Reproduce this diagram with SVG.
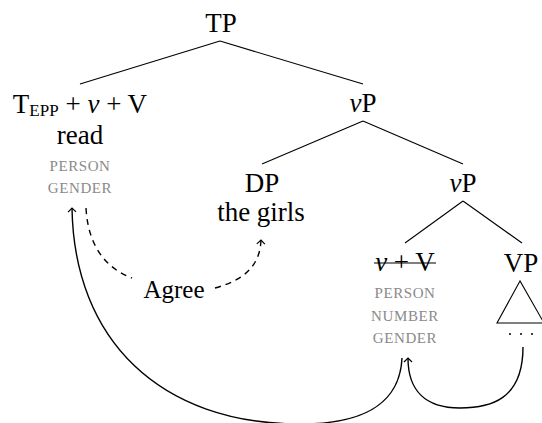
<svg xmlns="http://www.w3.org/2000/svg" width="542" height="423" viewBox="0 0 542 423">
<style>
text{font-family:'Liberation Serif','Times New Roman',Times,'DejaVu Serif',serif}
.t{font-size:27px;fill:#000;text-anchor:middle}
.f{font-size:15px;fill:#8a8a8a;text-anchor:middle;letter-spacing:0.6px}
.e{fill:none;stroke:#000;stroke-width:1.1}
.c{fill:none;stroke:#000;stroke-width:1.4}
.d{fill:none;stroke:#000;stroke-width:1.4;stroke-dasharray:6,5}
</style>
<defs>
<marker id="ah" viewBox="-6 -6 12 12" markerWidth="12" markerHeight="12" refX="0" refY="0" orient="auto" markerUnits="userSpaceOnUse">
<path d="M-4,-4 L0,0 L-4,4" fill="none" stroke="#000" stroke-width="1.2"/>
</marker>
</defs>
<g id="edges">
<line class="e" x1="220" y1="41" x2="80" y2="84"/>
<line class="e" x1="220" y1="41" x2="363" y2="84"/>
<line class="e" x1="363" y1="121" x2="262" y2="164"/>
<line class="e" x1="363" y1="121" x2="463" y2="164"/>
<line class="e" x1="463" y1="201" x2="405" y2="243"/>
<line class="e" x1="463" y1="201" x2="522" y2="243"/>
</g>
<g id="TP"><text class="t" x="221" y="32">TP</text></g>
<g id="T"><text class="t" x="80" y="113">T<tspan font-size="17" dy="3">EPP</tspan><tspan dy="-3"> + </tspan><tspan font-style="italic">v</tspan> + V</text>
<text class="t" x="80" y="144">read</text>
<text class="f" x="80" y="171">PERSON</text>
<text class="f" x="80" y="193">GENDER</text></g>
<g id="vP1"><text class="t" x="363" y="112"><tspan font-style="italic">v</tspan>P</text></g>
<g id="DP"><text class="t" x="262" y="192">DP</text><text class="t" x="261" y="221">the girls</text></g>
<g id="vP2"><text class="t" x="463" y="192"><tspan font-style="italic">v</tspan>P</text></g>
<g id="vV"><text class="t" x="405" y="271"><tspan font-style="italic">v</tspan> + V</text>
<line x1="374" y1="263" x2="436" y2="263" stroke="#000" stroke-width="1.1"/>
<text class="f" x="405" y="298">PERSON</text>
<text class="f" x="405" y="321">NUMBER</text>
<text class="f" x="405" y="343">GENDER</text></g>
<g id="VP"><text class="t" x="521" y="272">VP</text>
<path class="e" d="M520,281 L497,323 L544,323 Z"/>
<circle cx="510" cy="334" r="1" fill="#000"/><circle cx="521" cy="334" r="1" fill="#000"/><circle cx="532" cy="334" r="1" fill="#000"/></g>
<g id="Agree"><text class="t" x="174" y="298" style="font-size:25px">Agree</text></g>
<g id="arrows">
<path class="c" d="M402,358 C400,400 370,424 300,424 C160,424 74,340 72,208" marker-end="url(#ah)"/>
<path class="c" d="M523,347 C523,400 490,408 460,408 C425,408 408,390 408,358" marker-end="url(#ah)"/>
<path class="d" d="M86,208 C88,245 105,268 132,278"/>
<path class="d" d="M215,288 C245,280 260,265 261,240" marker-end="url(#ah)"/>
</g>
</svg>
